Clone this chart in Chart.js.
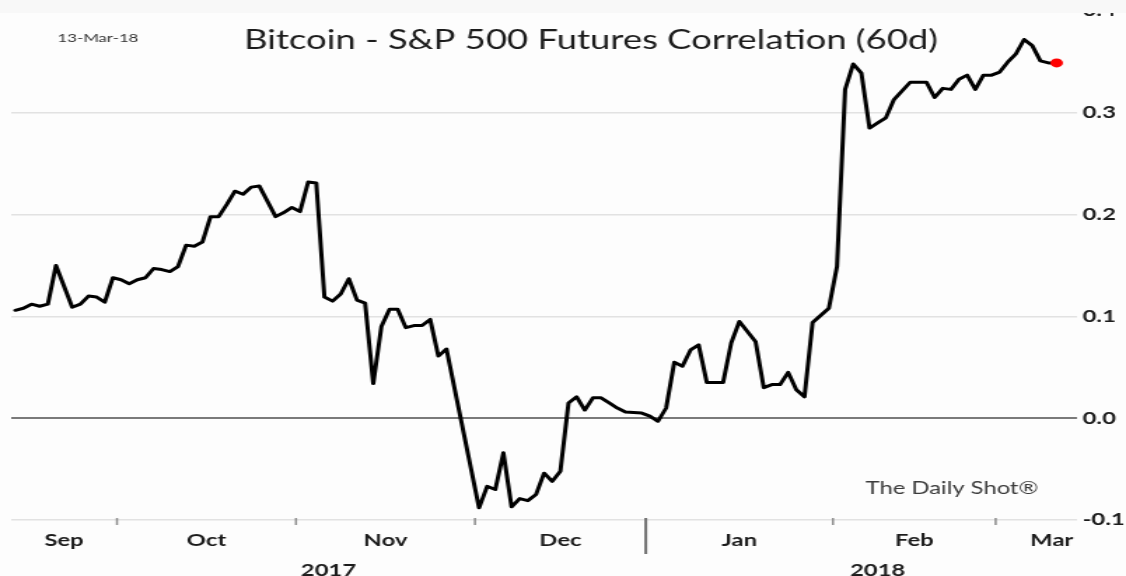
<!DOCTYPE html>
<html>
<head>
<meta charset="utf-8">
<title>Bitcoin - S&amp;P 500 Futures Correlation (60d)</title>
<script src="https://cdn.jsdelivr.net/npm/chart.js@4.4.1/dist/chart.umd.min.js"></script>
<style>
  html, body { margin: 0; padding: 0; background: #fdfdfd; }
  #wrap { position: relative; width: 1126px; height: 576px; overflow: hidden; }
  /* drawn narrow, shown wide: the whole chart is stretched horizontally */
  #corr { display: block; }
  #topband { position: absolute; left: 0; top: 0; width: 1126px; height: 13px; background: #f8f8f8; }
</style>
</head>
<body>
<div id="wrap">
  <canvas id="corr" width="804" height="576" style="width:1126px;height:576px"></canvas>
  <div id="topband"></div>
</div>
<script>
'use strict';

// Trading session index (0 = 13-Sep-17, 128 = 12-Mar-18) and 60-day correlation
const session = [
  0, 1, 2, 3, 4, 5, 7, 8, 9, 10, 11, 12, 13, 14, 15, 16, 17, 18, 19, 20,
  21, 22, 23, 24, 25, 26, 27, 28, 29, 30, 32, 33, 34, 35, 36, 37, 38, 39, 40, 41,
  42, 43, 44, 45, 46, 47, 48, 49, 50, 51, 52, 53, 57, 58, 59, 60, 61, 62, 63, 64,
  65, 66, 67, 68, 69, 70, 71, 72, 73, 74, 75, 77, 78, 79, 80, 81, 82, 83, 84, 85,
  87, 88, 89, 91, 92, 93, 94, 95, 96, 97, 98, 100, 101, 102, 103, 104, 105, 106, 107, 108,
  110, 112, 113, 114, 115, 116, 117, 118, 119, 120, 121, 122, 123, 124, 125, 126, 127, 128
];
const corr = [
  0.106, 0.108, 0.112, 0.110, 0.112, 0.150, 0.109, 0.112, 0.120, 0.119, 0.114, 0.138, 0.136, 0.132, 0.136, 0.138, 0.147, 0.146, 0.144, 0.149,
  0.170, 0.169, 0.173, 0.198, 0.198, 0.210, 0.223, 0.220, 0.227, 0.228, 0.198, 0.202, 0.207, 0.203, 0.232, 0.231, 0.119, 0.115, 0.122, 0.137,
  0.116, 0.113, 0.034, 0.090, 0.107, 0.107, 0.089, 0.091, 0.091, 0.097, 0.061, 0.068, -0.088, -0.067, -0.070, -0.034, -0.087, -0.079, -0.081, -0.075,
  -0.054, -0.062, -0.052, 0.015, 0.021, 0.008, 0.020, 0.020, 0.015, 0.010, 0.006, 0.005, 0.002, -0.003, 0.010, 0.055, 0.051, 0.067, 0.072, 0.035,
  0.035, 0.074, 0.095, 0.075, 0.030, 0.033, 0.033, 0.045, 0.028, 0.021, 0.094, 0.108, 0.149, 0.323, 0.348, 0.339, 0.285, 0.290, 0.295, 0.313,
  0.330, 0.330, 0.315, 0.324, 0.323, 0.333, 0.337, 0.323, 0.337, 0.337, 0.340, 0.350, 0.358, 0.372, 0.366, 0.351, 0.349, 0.349
];

// Month labels sit mid-month, separators fall between sessions
const monthNames = ['Sep', 'Oct', 'Nov', 'Dec', 'Jan', 'Feb', 'Mar'];
const monthMid   = [6, 23.5, 45.5, 67, 89, 110.5, 127.4];
const monthBreak = [12.5, 34.5, 56.5, 100.5, 120.5];
const yearBreak  = 77.5;
const yearNames  = ['2017', '2018'];
const yearMid    = [38.5, 106];
const yTicks     = [-0.1, 0, 0.1, 0.2, 0.3, 0.4];

const INK = '#1c1c1c';
const FAMILY = 'Lato, "DejaVu Sans", sans-serif';
const TICK_FONT = { family: FAMILY, size: 17, weight: 'bold' };

// ── Separators, title, stamp and credit drawn on the canvas ─────────────────
const decor = {
  id: 'decor',
  afterDraw(chart) {
    const { ctx, scales } = chart;
    const x = scales.x;
    const base = scales.y.getPixelForValue(-0.1);
    const seg = (x0, y0, x1, y1) => { ctx.beginPath(); ctx.moveTo(x0, y0); ctx.lineTo(x1, y1); ctx.stroke(); };

    ctx.save();
    ctx.strokeStyle = '#8a8a8a';
    ctx.lineWidth = 1.5;
    monthBreak.forEach(v => {
      const px = x.getPixelForValue(v);
      seg(px, base - 2, px, base + 5);
    });
    ctx.strokeStyle = '#707070';
    ctx.lineWidth = 2;
    const yb = x.getPixelForValue(yearBreak);
    seg(yb, base - 2, yb, base + 34);

    ctx.fillStyle = INK;
    ctx.textBaseline = 'middle';
    ctx.textAlign = 'center';
    ctx.font = `26px ${FAMILY}`;
    ctx.fillText('Bitcoin - S&P 500 Futures Correlation (60d)', 422, 41);

    ctx.fillStyle = '#333333';
    ctx.textAlign = 'left';
    ctx.font = `12px ${FAMILY}`;
    ctx.fillText('13-Mar-18', 41, 38);

    ctx.fillStyle = '#3a3a3a';
    ctx.font = `17px ${FAMILY}`;
    ctx.fillText('The Daily Shot®', 618, 489);
    ctx.restore();
  }
};

const lastIdx = corr.length - 1;

// bottom axes: no tick marks, no side padding for end labels
const bottomAxis = (ticks, names, height, pad) => ({
  type: 'linear',
  position: 'bottom',
  min: -0.5,
  max: 130.5,
  afterBuildTicks: s => { s.ticks = ticks.map(v => ({ value: v })); },
  afterFit: s => { s.height = height; s.paddingLeft = 0; s.paddingRight = 0; },
  grid: { display: false, drawTicks: false },
  border: { display: false },
  ticks: {
    autoSkip: false,
    maxRotation: 0,
    padding: pad,
    color: INK,
    font: TICK_FONT,
    callback: (v, i) => names[i],
  },
});

new Chart(document.getElementById('corr'), {
  type: 'line',
  data: {
    datasets: [{
      data: session.map((s, i) => ({ x: s, y: corr[i] })),
      borderColor: '#000000',
      borderWidth: 3,
      borderJoinStyle: 'round',
      borderCapStyle: 'round',
      tension: 0,
      fill: false,
      pointRadius: ctx => (ctx.dataIndex === lastIdx ? 4.5 : 0),
      pointBackgroundColor: '#ff0000',
      pointBorderColor: '#ff0000',
      pointBorderWidth: 0,
    }],
  },
  options: {
    responsive: false,
    animation: false,
    events: [],
    layout: { padding: { left: 8, top: 11, right: 0, bottom: 0 } },
    plugins: {
      legend: { display: false },
      tooltip: { enabled: false },
    },
    scales: {
      x: bottomAxis(monthMid, monthNames, 32, 10),
      x2: bottomAxis(yearMid, yearNames, 24, 8),
      y: {
        position: 'right',
        min: -0.1,
        max: 0.4,
        afterBuildTicks: s => { s.ticks = yTicks.map(v => ({ value: v })); },
        afterFit: s => { s.width = 35; s.paddingTop = 0; s.paddingBottom = 0; },
        border: { display: false },
        grid: {
          drawTicks: false,
          color: c => (c.tick && c.tick.value === 0 ? '#7a7a7a' : '#e2e2e2'),
          lineWidth: c => (c.tick && c.tick.value === 0 ? 2 : 1.5),
        },
        ticks: {
          padding: 4,
          color: INK,
          font: TICK_FONT,
          callback: v => v.toFixed(1),
        },
      },
    },
  },
  plugins: [decor],
});
</script>
</body>
</html>
